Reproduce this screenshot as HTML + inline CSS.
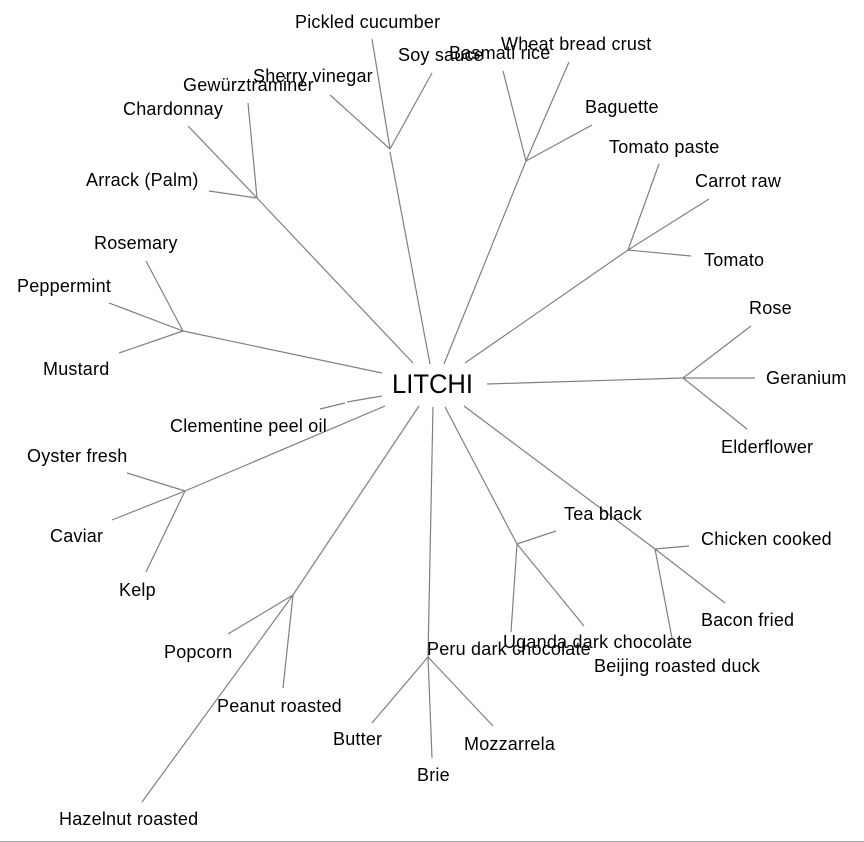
<!DOCTYPE html>
<html>
<head>
<meta charset="utf-8">
<style>
html,body{margin:0;padding:0;background:#fff;}
svg{display:block;}
text{font-family:"Liberation Sans",Arial,sans-serif;font-size:18px;fill:#000;letter-spacing:0.2px;}
</style>
</head>
<body>
<svg width="864" height="842" viewBox="0 0 864 842" xmlns="http://www.w3.org/2000/svg">
<g stroke="#808080" stroke-width="1.2" fill="none">
<!-- top-left cluster: pickled -->
<line x1="390" y1="149" x2="372" y2="39"/>
<line x1="390" y1="149" x2="330" y2="95"/>
<line x1="390" y1="149" x2="432" y2="73"/>
<line x1="390" y1="152" x2="430" y2="364"/>
<!-- arrack -->
<line x1="257" y1="198" x2="188" y2="126"/>
<line x1="257" y1="198" x2="248" y2="103"/>
<line x1="257" y1="198" x2="209" y2="191"/>
<line x1="257" y1="198" x2="413" y2="363"/>
<!-- rosemary -->
<line x1="183" y1="331" x2="146" y2="261"/>
<line x1="183" y1="331" x2="109" y2="303"/>
<line x1="183" y1="331" x2="119" y2="353"/>
<line x1="183" y1="331" x2="382" y2="373"/>
<!-- clementine -->
<line x1="320" y1="409" x2="345" y2="403"/>
<line x1="347" y1="402" x2="382" y2="396"/>
<!-- basmati -->
<line x1="526" y1="161" x2="503" y2="71"/>
<line x1="526" y1="161" x2="569" y2="62"/>
<line x1="526" y1="161" x2="592" y2="125"/>
<line x1="526" y1="161" x2="444" y2="364"/>
<!-- tomato -->
<line x1="628" y1="250" x2="659" y2="164"/>
<line x1="628" y1="250" x2="709" y2="199"/>
<line x1="628" y1="250" x2="691" y2="256"/>
<line x1="628" y1="250" x2="465" y2="363"/>
<!-- rose -->
<line x1="683" y1="378" x2="751" y2="326"/>
<line x1="683" y1="378" x2="755" y2="378"/>
<line x1="683" y1="378" x2="747" y2="429"/>
<line x1="683" y1="378" x2="487" y2="384"/>
<!-- oyster -->
<line x1="185" y1="491" x2="127" y2="473"/>
<line x1="185" y1="491" x2="112" y2="520"/>
<line x1="185" y1="491" x2="146" y2="572"/>
<line x1="185" y1="491" x2="385" y2="406"/>
<!-- popcorn -->
<line x1="293" y1="595" x2="228" y2="634"/>
<line x1="293" y1="595" x2="283" y2="688"/>
<line x1="293" y1="595" x2="142" y2="802"/>
<line x1="293" y1="595" x2="419" y2="406"/>
<!-- peru -->
<line x1="428" y1="657" x2="372" y2="723"/>
<line x1="428" y1="657" x2="432" y2="758"/>
<line x1="428" y1="657" x2="493" y2="726"/>
<line x1="428" y1="657" x2="433" y2="407"/>
<!-- tea -->
<line x1="517" y1="544" x2="556" y2="531"/>
<line x1="517" y1="544" x2="584" y2="626"/>
<line x1="517" y1="544" x2="511" y2="632"/>
<line x1="517" y1="544" x2="445" y2="407"/>
<!-- chicken -->
<line x1="655" y1="549" x2="689" y2="546"/>
<line x1="655" y1="549" x2="725" y2="603"/>
<line x1="655" y1="549" x2="672" y2="638"/>
<line x1="655" y1="549" x2="464" y2="406"/>
</g>
<line x1="0" y1="841.5" x2="864" y2="841.5" stroke="#aaaaaa" stroke-width="1"/>

<text x="392" y="393" style="font-size:27px;letter-spacing:0" textLength="81" lengthAdjust="spacingAndGlyphs">LITCHI</text>

<text x="295" y="28">Pickled cucumber</text>
<text x="398" y="61">Soy sauce</text>
<text x="449" y="59">Basmati rice</text>
<text x="501" y="50">Wheat bread crust</text>
<text x="253" y="82">Sherry vinegar</text>
<text x="183" y="91">Gewürztraminer</text>
<text x="123" y="115">Chardonnay</text>
<text x="86" y="186">Arrack (Palm)</text>
<text x="94" y="249">Rosemary</text>
<text x="17" y="292">Peppermint</text>
<text x="43" y="375">Mustard</text>
<text x="170" y="432">Clementine peel oil</text>
<text x="27" y="462">Oyster fresh</text>
<text x="50" y="542">Caviar</text>
<text x="119" y="596">Kelp</text>
<text x="164" y="658">Popcorn</text>
<text x="217" y="712">Peanut roasted</text>
<text x="59" y="825">Hazelnut roasted</text>
<text x="333" y="745">Butter</text>
<text x="417" y="781">Brie</text>
<text x="464" y="750">Mozzarrela</text>
<text x="427" y="655">Peru dark chocolate</text>
<text x="503" y="648">Uganda dark chocolate</text>
<text x="594" y="672">Beijing roasted duck</text>
<text x="564" y="520">Tea black</text>
<text x="701" y="545">Chicken cooked</text>
<text x="701" y="626">Bacon fried</text>
<text x="721" y="453">Elderflower</text>
<text x="766" y="384">Geranium</text>
<text x="749" y="314">Rose</text>
<text x="704" y="266">Tomato</text>
<text x="695" y="187">Carrot raw</text>
<text x="609" y="153">Tomato paste</text>
<text x="585" y="113">Baguette</text>
</svg>
</body>
</html>
